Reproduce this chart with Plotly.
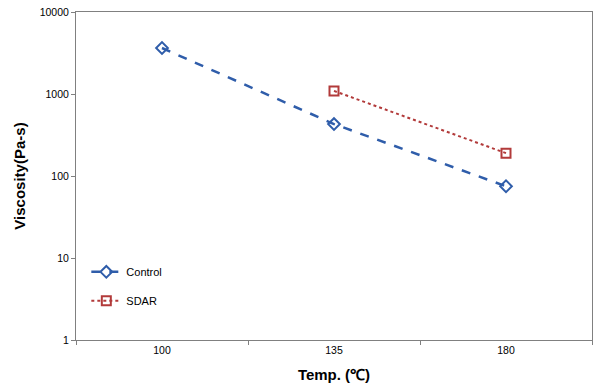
import plotly.graph_objects as go

temps = ["100", "135", "180"]
control_x = ["100", "135", "180"]
control_y = [3640, 430, 75]
sdar_x = ["135", "180"]
sdar_y = [1090, 190]

fig = go.Figure()
fig.add_trace(go.Scatter(
    x=control_x, y=control_y, name="Control", mode="lines+markers",
    line=dict(color="#2F5DAA", width=2.5, dash="dash"),
    marker=dict(symbol="diamond-open", size=9, color="#2F5DAA", line=dict(width=2)),
    legendgroup="a"))
fig.add_trace(go.Scatter(
    x=sdar_x, y=sdar_y, name="SDAR", mode="lines+markers",
    line=dict(color="#B23A3A", width=2, dash="dot"),
    marker=dict(symbol="square-open", size=9, color="#B23A3A", line=dict(width=2)),
    legendgroup="b"))

axis_common = dict(showline=True, linecolor="#808080", linewidth=1, mirror=True,
                   showgrid=False, zeroline=False, ticks="outside", tickcolor="#808080",
                   ticklen=4, tickfont=dict(family="Liberation Sans, Arial", size=10.5, color="#000"))
fig.update_xaxes(type="category", categoryarray=temps, range=[-0.5, 2.5],
                 tickson="boundaries",
                 title=dict(text="<b>Temp. (℃)</b>", font=dict(family="Liberation Sans, Arial", size=15, color="#000"), standoff=14),
                 **axis_common)
fig.update_yaxes(type="log", range=[0, 4], tickvals=[1, 10, 100, 1000, 10000],
                 ticktext=["1", "10", "100", "1000", "10000"],
                 title=dict(text="<b>Viscosity(Pa-s)</b>", font=dict(family="Liberation Sans, Arial", size=15, color="#000"), standoff=10),
                 **axis_common)
fig.update_layout(
    width=595, height=388, margin=dict(l=76, r=3, t=12, b=48),
    paper_bgcolor="white", plot_bgcolor="white",
    showlegend=True,
    legend=dict(x=0.02, y=0.252, xanchor="left", yanchor="top", bgcolor="rgba(0,0,0,0)",
                font=dict(family="Liberation Sans, Arial", size=11, color="#000"),
                tracegroupgap=10, traceorder="grouped", itemwidth=30),
)
fig.write_html("out.html")
